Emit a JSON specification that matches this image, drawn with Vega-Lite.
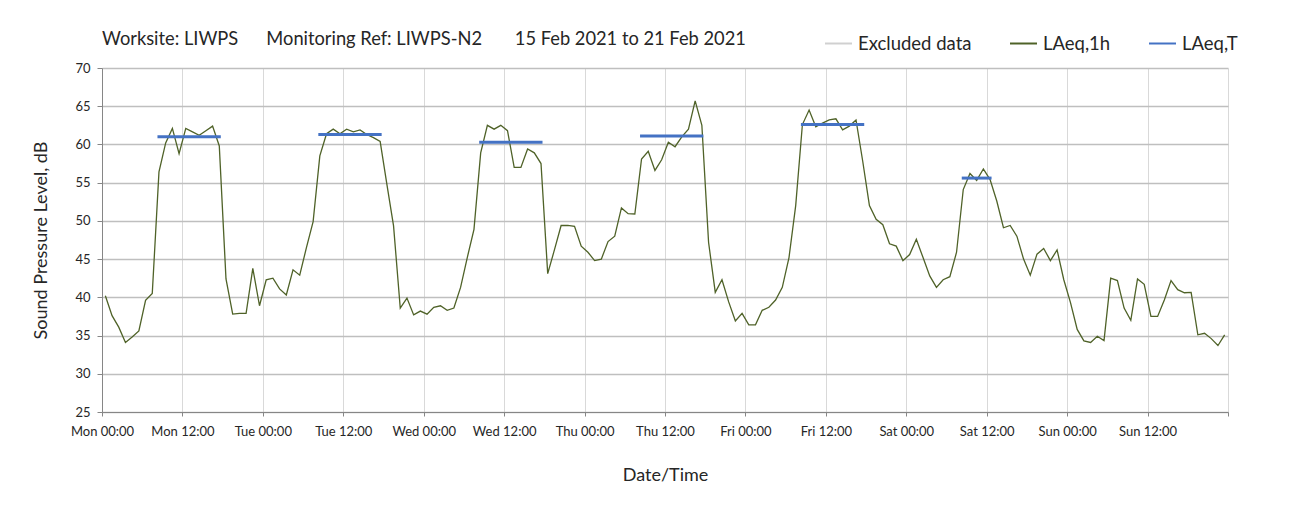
{
  "$schema": "https://vega.github.io/schema/vega-lite/v6.json",
  "autosize": "none",
  "width": 1126,
  "height": 344,
  "padding": {"left": 102, "top": 68, "right": 67, "bottom": 97},
  "background": "white",
  "config": {
    "font": "Lato",
    "view": {"stroke": null},
    "axis": {"labelFont": "Lato", "titleFont": "Lato", "labelColor": "#262626", "titleColor": "#262626", "titleFontWeight": "normal"}
  },
  "title": {
    "text": "Worksite: LIWPS\u00a0\u00a0\u00a0\u00a0\u00a0\u00a0Monitoring Ref: LIWPS-N2\u00a0\u00a0\u00a0\u00a0\u00a0\u00a0\u00a015 Feb 2021 to 21 Feb 2021",
    "anchor": "start",
    "frame": "group",
    "fontSize": 18.3,
    "fontWeight": "normal",
    "color": "#262626",
    "offset": -20
  },
  "datasets": {
    "hourly": [
      {"hour": 0.5, "LAeq": 40.2}, {"hour": 1.5, "LAeq": 37.6}, {"hour": 2.5, "LAeq": 36.1}, {"hour": 3.5, "LAeq": 34.1},
      {"hour": 4.5, "LAeq": 34.8}, {"hour": 5.5, "LAeq": 35.6}, {"hour": 6.5, "LAeq": 39.6}, {"hour": 7.5, "LAeq": 40.5},
      {"hour": 8.5, "LAeq": 56.4}, {"hour": 9.5, "LAeq": 60.2}, {"hour": 10.5, "LAeq": 62.1}, {"hour": 11.5, "LAeq": 58.8},
      {"hour": 12.5, "LAeq": 62.1}, {"hour": 13.5, "LAeq": 61.65}, {"hour": 14.5, "LAeq": 61.2}, {"hour": 15.5, "LAeq": 61.8},
      {"hour": 16.5, "LAeq": 62.4}, {"hour": 17.5, "LAeq": 59.8}, {"hour": 18.5, "LAeq": 42.4}, {"hour": 19.5, "LAeq": 37.8},
      {"hour": 20.5, "LAeq": 37.9}, {"hour": 21.5, "LAeq": 37.9}, {"hour": 22.5, "LAeq": 43.8}, {"hour": 23.5, "LAeq": 38.9},
      {"hour": 24.5, "LAeq": 42.3}, {"hour": 25.5, "LAeq": 42.5}, {"hour": 26.5, "LAeq": 41.1}, {"hour": 27.5, "LAeq": 40.3},
      {"hour": 28.5, "LAeq": 43.6}, {"hour": 29.5, "LAeq": 42.9}, {"hour": 30.5, "LAeq": 46.5}, {"hour": 31.5, "LAeq": 49.9},
      {"hour": 32.5, "LAeq": 58.5}, {"hour": 33.5, "LAeq": 61.4}, {"hour": 34.5, "LAeq": 62.0}, {"hour": 35.5, "LAeq": 61.4},
      {"hour": 36.5, "LAeq": 62.0}, {"hour": 37.5, "LAeq": 61.65}, {"hour": 38.5, "LAeq": 61.9}, {"hour": 39.5, "LAeq": 61.3},
      {"hour": 40.5, "LAeq": 60.9}, {"hour": 41.5, "LAeq": 60.4}, {"hour": 42.5, "LAeq": 54.8}, {"hour": 43.5, "LAeq": 49.35},
      {"hour": 44.5, "LAeq": 38.6}, {"hour": 45.5, "LAeq": 39.9}, {"hour": 46.5, "LAeq": 37.7}, {"hour": 47.5, "LAeq": 38.2},
      {"hour": 48.5, "LAeq": 37.8}, {"hour": 49.5, "LAeq": 38.7}, {"hour": 50.5, "LAeq": 38.9}, {"hour": 51.5, "LAeq": 38.3},
      {"hour": 52.5, "LAeq": 38.6}, {"hour": 53.5, "LAeq": 41.3}, {"hour": 54.5, "LAeq": 45.2}, {"hour": 55.5, "LAeq": 48.9},
      {"hour": 56.5, "LAeq": 58.9}, {"hour": 57.5, "LAeq": 62.5}, {"hour": 58.5, "LAeq": 62.0}, {"hour": 59.5, "LAeq": 62.5},
      {"hour": 60.5, "LAeq": 61.8}, {"hour": 61.5, "LAeq": 57.0}, {"hour": 62.5, "LAeq": 57.0}, {"hour": 63.5, "LAeq": 59.4},
      {"hour": 64.5, "LAeq": 58.9}, {"hour": 65.5, "LAeq": 57.5}, {"hour": 66.5, "LAeq": 43.1}, {"hour": 67.5, "LAeq": 46.2},
      {"hour": 68.5, "LAeq": 49.4}, {"hour": 69.5, "LAeq": 49.4}, {"hour": 70.5, "LAeq": 49.3}, {"hour": 71.5, "LAeq": 46.7},
      {"hour": 72.5, "LAeq": 45.9}, {"hour": 73.5, "LAeq": 44.8}, {"hour": 74.5, "LAeq": 45.0}, {"hour": 75.5, "LAeq": 47.3},
      {"hour": 76.5, "LAeq": 48.0}, {"hour": 77.5, "LAeq": 51.7}, {"hour": 78.5, "LAeq": 50.95}, {"hour": 79.5, "LAeq": 50.9},
      {"hour": 80.5, "LAeq": 58.1}, {"hour": 81.5, "LAeq": 59.1}, {"hour": 82.5, "LAeq": 56.6}, {"hour": 83.5, "LAeq": 58.0},
      {"hour": 84.5, "LAeq": 60.3}, {"hour": 85.5, "LAeq": 59.7}, {"hour": 86.5, "LAeq": 61.0}, {"hour": 87.5, "LAeq": 62.0},
      {"hour": 88.5, "LAeq": 65.7}, {"hour": 89.5, "LAeq": 62.5}, {"hour": 90.5, "LAeq": 47.2}, {"hour": 91.5, "LAeq": 40.65},
      {"hour": 92.5, "LAeq": 42.3}, {"hour": 93.5, "LAeq": 39.4}, {"hour": 94.5, "LAeq": 36.9}, {"hour": 95.5, "LAeq": 37.9},
      {"hour": 96.5, "LAeq": 36.4}, {"hour": 97.5, "LAeq": 36.4}, {"hour": 98.5, "LAeq": 38.3}, {"hour": 99.5, "LAeq": 38.7},
      {"hour": 100.5, "LAeq": 39.65}, {"hour": 101.5, "LAeq": 41.3}, {"hour": 102.5, "LAeq": 45.2}, {"hour": 103.5, "LAeq": 52.0},
      {"hour": 104.5, "LAeq": 62.6}, {"hour": 105.5, "LAeq": 64.5}, {"hour": 106.5, "LAeq": 62.3}, {"hour": 107.5, "LAeq": 62.8},
      {"hour": 108.5, "LAeq": 63.2}, {"hour": 109.5, "LAeq": 63.35}, {"hour": 110.5, "LAeq": 61.9}, {"hour": 111.5, "LAeq": 62.4},
      {"hour": 112.5, "LAeq": 63.2}, {"hour": 113.5, "LAeq": 57.8}, {"hour": 114.5, "LAeq": 52.0}, {"hour": 115.5, "LAeq": 50.2},
      {"hour": 116.5, "LAeq": 49.5}, {"hour": 117.5, "LAeq": 47.0}, {"hour": 118.5, "LAeq": 46.7}, {"hour": 119.5, "LAeq": 44.8},
      {"hour": 120.5, "LAeq": 45.6}, {"hour": 121.5, "LAeq": 47.6}, {"hour": 122.5, "LAeq": 45.2}, {"hour": 123.5, "LAeq": 42.8},
      {"hour": 124.5, "LAeq": 41.3}, {"hour": 125.5, "LAeq": 42.3}, {"hour": 126.5, "LAeq": 42.7}, {"hour": 127.5, "LAeq": 45.9},
      {"hour": 128.5, "LAeq": 54.1}, {"hour": 129.5, "LAeq": 56.2}, {"hour": 130.5, "LAeq": 55.3}, {"hour": 131.5, "LAeq": 56.8},
      {"hour": 132.5, "LAeq": 55.4}, {"hour": 133.5, "LAeq": 52.6}, {"hour": 134.5, "LAeq": 49.1}, {"hour": 135.5, "LAeq": 49.4},
      {"hour": 136.5, "LAeq": 48.0}, {"hour": 137.5, "LAeq": 45.0}, {"hour": 138.5, "LAeq": 42.9}, {"hour": 139.5, "LAeq": 45.65},
      {"hour": 140.5, "LAeq": 46.4}, {"hour": 141.5, "LAeq": 44.8}, {"hour": 142.5, "LAeq": 46.2}, {"hour": 143.5, "LAeq": 42.3},
      {"hour": 144.5, "LAeq": 39.3}, {"hour": 145.5, "LAeq": 35.8}, {"hour": 146.5, "LAeq": 34.3}, {"hour": 147.5, "LAeq": 34.1},
      {"hour": 148.5, "LAeq": 34.9}, {"hour": 149.5, "LAeq": 34.35}, {"hour": 150.5, "LAeq": 42.5}, {"hour": 151.5, "LAeq": 42.2},
      {"hour": 152.5, "LAeq": 38.6}, {"hour": 153.5, "LAeq": 37.0}, {"hour": 154.5, "LAeq": 42.4}, {"hour": 155.5, "LAeq": 41.7},
      {"hour": 156.5, "LAeq": 37.5}, {"hour": 157.5, "LAeq": 37.5}, {"hour": 158.5, "LAeq": 39.65}, {"hour": 159.5, "LAeq": 42.2},
      {"hour": 160.5, "LAeq": 41.0}, {"hour": 161.5, "LAeq": 40.6}, {"hour": 162.5, "LAeq": 40.65}, {"hour": 163.5, "LAeq": 35.1},
      {"hour": 164.5, "LAeq": 35.3}, {"hour": 165.5, "LAeq": 34.6}, {"hour": 166.5, "LAeq": 33.7}, {"hour": 167.5, "LAeq": 35.1}
    ],
    "period": [
      {"day": "Mon", "hour": 8.5, "LAeq": 61.0}, {"day": "Mon", "hour": 17.5, "LAeq": 61.0},
      {"day": "Tue", "hour": 32.5, "LAeq": 61.3}, {"day": "Tue", "hour": 41.5, "LAeq": 61.3},
      {"day": "Wed", "hour": 56.5, "LAeq": 60.3}, {"day": "Wed", "hour": 65.5, "LAeq": 60.3},
      {"day": "Thu", "hour": 80.5, "LAeq": 61.1}, {"day": "Thu", "hour": 89.5, "LAeq": 61.1},
      {"day": "Fri", "hour": 104.5, "LAeq": 62.6}, {"day": "Fri", "hour": 113.5, "LAeq": 62.6},
      {"day": "Sat", "hour": 128.5, "LAeq": 55.6}, {"day": "Sat", "hour": 132.5, "LAeq": 55.6}
    ]
  },
  "encoding": {
    "x": {
      "field": "hour",
      "type": "quantitative",
      "title": "Date/Time",
      "scale": {"domain": [0, 168], "nice": false, "zero": false},
      "axis": {
        "values": [0, 12, 24, 36, 48, 60, 72, 84, 96, 108, 120, 132, 144, 156, 168],
        "labelExpr": "datum.value >= 168 ? '' : ['Mon','Tue','Wed','Thu','Fri','Sat','Sun'][floor(datum.value / 24)] + (datum.value % 24 == 0 ? ' 00:00' : ' 12:00')",
        "labelFontSize": 13,
        "labelPadding": 9,
        "labelFlush": false,
        "labelOverlap": false,
        "titleFontSize": 18,
        "titlePadding": 28,
        "gridColor": "#d9d9d9",
        "gridWidth": 1,
        "domainColor": "#868686",
        "tickColor": "#868686",
        "tickSize": 4
      }
    },
    "y": {
      "field": "LAeq",
      "type": "quantitative",
      "title": "Sound Pressure Level, dB",
      "scale": {"domain": [25, 70], "nice": false, "zero": false},
      "axis": {
        "values": [25, 30, 35, 40, 45, 50, 55, 60, 65, 70],
        "labelFontSize": 13,
        "labelPadding": 7,
        "titleFontSize": 18,
        "titlePadding": 24,
        "gridColor": "#bfbfbf",
        "gridWidth": 1.3,
        "domainColor": "#868686",
        "tickColor": "#868686",
        "tickSize": 5
      }
    }
  },
  "layer": [
    {
      "data": {"name": "hourly"},
      "mark": {"type": "line", "strokeWidth": 1.3},
      "encoding": {
        "color": {
          "datum": "LAeq,1h",
          "type": "nominal",
          "scale": {"domain": ["Excluded data", "LAeq,1h", "LAeq,T"], "range": ["#d0d0d0", "#4f6228", "#4472c4"]},
          "legend": {
            "title": null,
            "orient": "none",
            "legendX": 722,
            "legendY": -39,
            "direction": "horizontal",
            "symbolType": "stroke",
            "symbolSize": 729,
            "symbolStrokeWidth": 2,
            "labelFontSize": 18.5,
            "labelColor": "#262626",
            "labelFont": "Lato",
            "labelOffset": 5,
            "columnPadding": 34
          }
        }
      }
    },
    {
      "data": {"name": "period"},
      "mark": {"type": "line", "strokeWidth": 3, "strokeCap": "square"},
      "encoding": {
        "detail": {"field": "day", "type": "nominal"},
        "color": {"datum": "LAeq,T", "type": "nominal"}
      }
    }
  ]
}
